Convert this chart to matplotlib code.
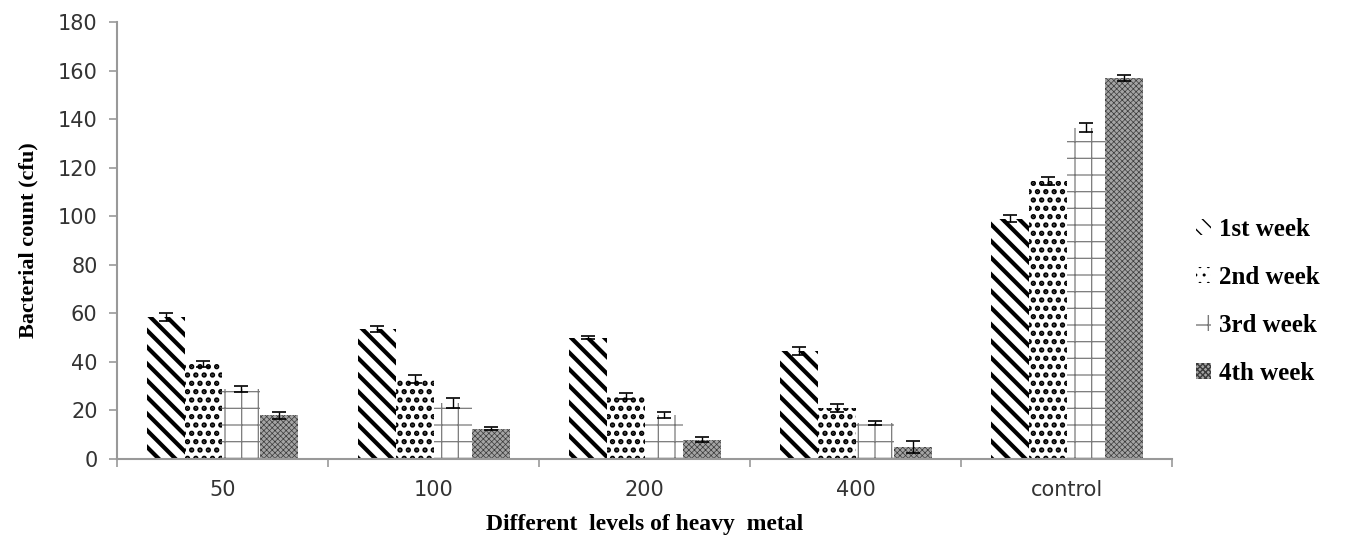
import matplotlib.pyplot as plt
import numpy as np

levels = ["50", "100", "200", "400", "control"]
weeks = ["1st week", "2nd week", "3rd week", "4th week"]

week1 = [58.5, 53.5, 50, 44.5, 99]
week2 = [39, 33, 26, 21, 114.5]
week3 = [29, 23, 18, 15, 136.5]
week4 = [18, 12.5, 8, 5, 157]

err1 = [1.5, 1.2, 0.5, 1.8, 1.5]
err2 = [1.2, 1.5, 1.2, 1.5, 1.5]
err3 = [1.2, 2, 1.2, 0.8, 1.8]
err4 = [1.5, 0.5, 1, 2.5, 1.2]

values = [week1, week2, week3, week4]
errors = [err1, err2, err3, err4]

styles = [
    dict(facecolor="white", edgecolor="black", hatch="\\\\", hlw=3.0),
    dict(facecolor="white", edgecolor="black", hatch="..", hlw=2.6),
    dict(facecolor="white", edgecolor="#7a7a7a", hatch="+", hlw=0.9),
    dict(facecolor="#a4a4a4", edgecolor="#3a3a3a", hatch="xxxxxx", hlw=0.5),
]

fig = plt.figure(figsize=(13.6, 5.48), dpi=100)
ax = fig.add_axes([0.086, 0.1624, 0.776, 0.7974])

x = np.arange(len(levels))
w = 0.18
handles = []
for i, (vals, errs, st) in enumerate(zip(values, errors, styles)):
    with plt.rc_context({"hatch.linewidth": st["hlw"]}):
        bars = ax.bar(x + (i - 1.5) * w, vals, w, facecolor=st["facecolor"],
                      edgecolor=st["edgecolor"], hatch=st["hatch"],
                      linewidth=0, label=weeks[i], zorder=2)
        for b in bars:
            if hasattr(b, "set_hatch_linewidth"):
                b.set_hatch_linewidth(st["hlw"])
    ax.errorbar(x + (i - 1.5) * w, vals, yerr=errs, fmt="none", ecolor="black",
                elinewidth=1, capsize=5, capthick=1.2, zorder=3)
    handles.append(bars)

ax.set_xlim(-0.5, len(levels) - 0.5)
ax.set_ylim(0, 180)
ax.set_yticks(range(0, 181, 20))
ax.set_xticks(x)
ax.set_xticklabels(levels)
ax.set_xticks(np.arange(-0.5, len(levels), 1), minor=True)
ax.tick_params(axis="x", which="major", length=0, pad=15)
ax.tick_params(axis="x", which="minor", length=6, color="#999999", width=1.2)
ax.tick_params(axis="y", length=6, color="#999999", width=1.2, pad=8)
ax.tick_params(labelsize=15, labelcolor="#333333")

for s in ["top", "right"]:
    ax.spines[s].set_visible(False)
for s in ["left", "bottom"]:
    ax.spines[s].set_color("#999999")
    ax.spines[s].set_linewidth(1.5)

ax.set_ylabel("Bacterial count (cfu)", fontsize=16, fontweight="bold",
              family="Liberation Serif", labelpad=14)
ax.set_xlabel("Different  levels of heavy  metal", fontsize=17, fontweight="bold",
              family="Liberation Serif", labelpad=10)

fig.legend(handles=handles, loc="center left", bbox_to_anchor=(0.863, 0.45),
           frameon=False, prop={"family": "Liberation Serif", "weight": "bold", "size": 18},
           handlelength=0.6, handleheight=0.6, handletextpad=0.3, labelspacing=1.0)

plt.savefig("out.png", dpi=100)
plt.close()
